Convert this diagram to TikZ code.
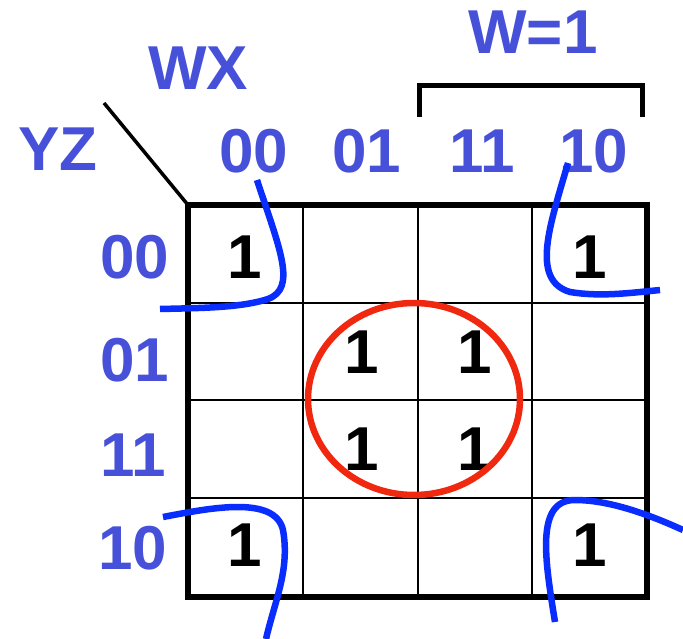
\documentclass[tikz,border=0pt]{standalone}
\usepackage{fontspec}
\setmainfont{Liberation Sans}
\usepackage{xcolor}
\definecolor{kblue}{RGB}{70,80,216}
\definecolor{loopblue}{RGB}{10,45,255}
\definecolor{loopred}{RGB}{240,40,15}
\tikzset{
  lbl/.style={text=kblue, inner sep=0pt, font=\bfseries\fontsize{62}{70}\selectfont},
  one/.style={text=black, inner sep=0pt, font=\bfseries\fontsize{62}{70}\selectfont},
  loop/.style={loopblue, line width=6.5pt}
}

\begin{document}
\begin{tikzpicture}[x=1pt,y=-1pt]
\useasboundingbox (0,0) rectangle (683,639);
% grid
\draw[line width=2.5pt] (303,205) -- (303,597);
\draw[line width=2.5pt] (418,205) -- (418,597);
\draw[line width=2.5pt] (532,205) -- (532,597);
\draw[line width=2.5pt] (188,303) -- (647,303);
\draw[line width=2.5pt] (188,400) -- (647,400);
\draw[line width=2.5pt] (188,498) -- (647,498);
\draw[line width=6pt] (188,205) rectangle (647,597);
\draw[line width=3.5pt] (104,103) -- (188,205);
\draw[line width=5pt] (419,117) -- (419,86) -- (642,86) -- (642,117);
% labels
\node[lbl] (wx) at (198,68) {WX};
\node[lbl] (yz) at (58,149) {YZ};
\node[lbl] (w1) at (533,32) {W=1};
\node[lbl] (c00) at (254,151) {00};
\node[lbl] (c01) at (367,151) {01};
\node[lbl] (c11) at (482,151) {11};
\node[lbl] (c10) at (594,151) {10};
\node[lbl] (r00) at (135,257) {00};
\node[lbl] (r01) at (135,360) {01};
\node[lbl] (r11) at (133,455) {11};
\node[lbl] (r10) at (133,548) {10};
% ones
\node[one] (m0) at (245,257) {1};
\node[one] (m8) at (590,257) {1};
\node[one] (m5) at (362,352) {1};
\node[one] (m13) at (475,352) {1};
\node[one] (m7) at (362,449) {1};
\node[one] (m15) at (475,449) {1};
\node[one] (m2) at (245,545) {1};
\node[one] (m10) at (590,545) {1};
% groups
\draw[loopred, line width=6.5pt] (414,399) ellipse [x radius=106, y radius=96];
\draw[loop] (257,180) .. controls (280,250) and (297,288) .. (268,299) .. controls (240,308) and (200,308) .. (160,309);
\draw[loop] (568,163) .. controls (550,225) and (530,280) .. (570,292) .. controls (600,297) and (630,293) .. (660,290);
\draw[loop] (163,517) .. controls (210,508) and (275,495) .. (283,530) .. controls (290,570) and (275,600) .. (266,639);
\draw[loop] (555,622) .. controls (545,560) and (535,500) .. (575,500) .. controls (610,500) and (650,515) .. (683,530);
\end{tikzpicture}
\end{document}
